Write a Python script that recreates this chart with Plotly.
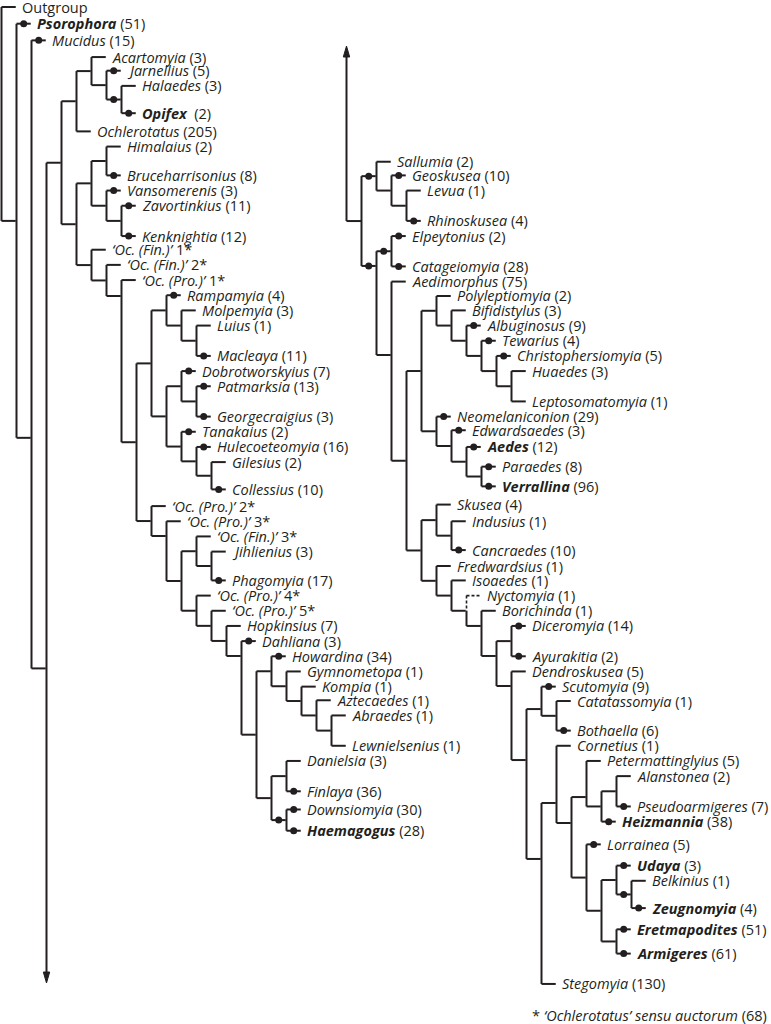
import plotly.graph_objects as go

# ---------------- data ----------------
left_taxa = ["Outgroup", "Psorophora", "Mucidus", "Acartomyia", "Jarnellius", "Halaedes", "Opifex",
             "Ochlerotatus", "Himalaius", "Bruceharrisonius", "Vansomerenis", "Zavortinkius", "Kenknightia",
             "OcFin1", "OcFin2", "OcPro1", "Rampamyia", "Molpemyia", "Luius", "Macleaya", "Dobrotworskyius",
             "Patmarksia", "Georgecraigius", "Tanakaius", "Hulecoeteomyia", "Gilesius", "Collessius",
             "OcPro2", "OcPro3", "OcFin3", "Jihlienius", "Phagomyia", "OcPro4", "OcPro5", "Hopkinsius",
             "Dahliana", "Howardina", "Gymnometopa", "Kompia", "Aztecaedes", "Abraedes", "Lewnielsenius",
             "Danielsia", "Finlaya", "Downsiomyia", "Haemagogus"]
left_counts = [None, 51, 15, 3, 5, 3, 2, 205, 2, 8, 3, 11, 12, None, None, None, 4, 3, 1, 11, 7, 13, 3,
               2, 16, 2, 10, None, None, None, 3, 17, None, None, 7, 3, 34, 1, 1, 1, 1, 1, 3, 36, 30, 28]
left_rows = [0, 1.1, 2.2, 3.3, 4.2, 5.2, 7.0, 8.2, 9.2, 11.1, 12.1, 13.1, 15.1, 16.0, 17.0, 18.0, 19.0,
             20.0, 21.0, 23.0, 24.0, 25.0, 27.0, 28.0, 29.0, 30.0, 31.8, 32.9, 33.9, 34.9, 35.9, 37.8,
             38.8, 39.8, 40.8, 41.8, 42.8, 43.8, 44.8, 45.7, 46.7, 48.7, 49.7, 51.7, 52.9, 54.3]

right_taxa = ["Sallumia", "Geoskusea", "Levua", "Rhinoskusea", "Elpeytonius", "Catageiomyia", "Aedimorphus",
              "Polyleptiomyia", "Bifidistylus", "Albuginosus", "Tewarius", "Christophersiomyia", "Huaedes",
              "Leptosomatomyia", "Neomelaniconion", "Edwardsaedes", "Aedes", "Paraedes", "Verrallina",
              "Skusea", "Indusius", "Cancraedes", "Fredwardsius", "Isoaedes", "Nyctomyia", "Borichinda",
              "Diceromyia", "Ayurakitia", "Dendroskusea", "Scutomyia", "Catatassomyia", "Bothaella",
              "Cornetius", "Petermattinglyius", "Alanstonea", "Pseudoarmigeres", "Heizmannia", "Lorrainea",
              "Udaya", "Belkinius", "Zeugnomyia", "Eretmapodites", "Armigeres", "Stegomyia"]
right_counts = [2, 10, 1, 4, 2, 28, 75, 2, 3, 9, 4, 5, 3, 1, 29, 3, 12, 8, 96, 4, 1, 10, 1, 1, 1, 1, 14, 2,
                5, 9, 1, 6, 1, 5, 2, 7, 38, 5, 3, 1, 4, 51, 61, 130]
right_rows = [10.2, 11.1, 12.1, 14.1, 15.1, 17.1, 18.1, 19.05, 20.0, 21.0, 22.0, 23.0, 24.0, 26.0, 27.0,
              27.9, 29.0, 30.3, 31.6, 32.8, 33.9, 35.8, 36.85, 37.8, 38.8, 39.8, 40.8, 42.8, 43.8, 44.8,
              45.75, 47.7, 48.7, 49.7, 50.7, 52.7, 53.7, 55.2, 56.6, 57.6, 59.4, 60.8, 62.4, 64.4]

oc_labels = {"OcFin1": ("Fin.", "1"), "OcFin2": ("Fin.", "2"), "OcPro1": ("Pro.", "1"),
             "OcPro2": ("Pro.", "2"), "OcPro3": ("Pro.", "3"), "OcFin3": ("Fin.", "3"),
             "OcPro4": ("Pro.", "4"), "OcPro5": ("Pro.", "5")}

bold_taxa = ["Psorophora", "Opifex", "Haemagogus", "Aedes", "Verrallina", "Heizmannia", "Udaya",
             "Zeugnomyia", "Eretmapodites", "Armigeres"]

dotted = ["Psorophora", "Mucidus", "Jarnellius", "Opifex", "HO", "Bruceharrisonius", "Vansomerenis",
          "Zavortinkius", "Kenknightia", "Rampamyia", "Macleaya", "Dobrotworskyius", "Patmarksia",
          "Georgecraigius", "Tanakaius", "Hulecoeteomyia", "Collessius", "Phagomyia", "Dahliana",
          "Howardina", "Finlaya", "DH", "Downsiomyia", "Haemagogus", "C1", "Geoskusea", "Rhinoskusea",
          "C2", "F", "Elpeytonius", "Catageiomyia", "Albuginosus", "Tewarius", "Christophersiomyia",
          "Neomelaniconion", "Edwardsaedes", "Aedes", "Paraedes", "Verrallina", "Cancraedes",
          "Diceromyia", "Ayurakitia", "Scutomyia", "Bothaella", "Pseudoarmigeres", "Heizmannia",
          "Lorrainea", "Udaya", "T", "Zeugnomyia", "Eretmapodites", "Armigeres"]

# node rows read from the picture where the stem is not centred on its clade
node_rows = {"N1": 14.1, "N2": 28.4, "N3": 43.6, "OP1": 19.05, "OP3": 34.87, "DA": 42.78,
             "C2": 17.07, "G": 22.94, "D32": 40.8, "D33": 42.78, "D34": 44.76, "K": 49.64,
             "K1": 46.28, "K2": 56.16, "L": 52.47, "L2": 53.79, "P": 52.08}

footnote = "* <i>\u2018Ochlerotatus\u2019 sensu auctorum</i> (68)"

# ---------------- topology (Newick) ----------------
howardina = "(Howardina,(Gymnometopa,(Kompia,(Aztecaedes,(Abraedes,Lewnielsenius)))))"
dahl = "(Dahliana,(" + howardina + ",((Danielsia,Finlaya),(Downsiomyia,Haemagogus)DH)" + "))DA"
pro4 = "(OcPro4,(OcPro5,(Hopkinsius," + dahl + ")))"
fin3 = "(OcFin3,(Jihlienius,Phagomyia))"
pro2 = "(OcPro2,(OcPro3,(" + fin3 + "," + pro4 + "))OP3)"
ramp = ("((Rampamyia,(Molpemyia,(Luius,Macleaya))),((Dobrotworskyius,(Patmarksia,Georgecraigius)),"
        "(Tanakaius,(Hulecoeteomyia,(Gilesius,Collessius)))))")
d9 = "(" + ramp + "," + pro2 + ")"
ocfin = "(OcFin1,(OcFin2,(OcPro1," + d9 + ")OP1))"
him = "((Himalaius,Bruceharrisonius),(Vansomerenis,(Zavortinkius,Kenknightia)))"
A1 = "((Acartomyia,(Jarnellius,(Halaedes,Opifex)HO)),Ochlerotatus)"
A = "(" + A1 + ",(" + him + "," + ocfin + "))"

C1 = "(Sallumia,(Geoskusea,(Levua,Rhinoskusea)))C1"
F = "(Elpeytonius,Catageiomyia)F"
H1a = "(Polyleptiomyia,(Bifidistylus,(Albuginosus,(Tewarius,(Christophersiomyia,(Huaedes,Leptosomatomyia))))))"
H1b = "(Neomelaniconion,(Edwardsaedes,(Aedes,(Paraedes,Verrallina))))"
H2a = "(Skusea,(Indusius,Cancraedes))"
P = "(Petermattinglyius,((Alanstonea,Pseudoarmigeres),Heizmannia))P"
Q = "(Lorrainea,((Udaya,(Belkinius,Zeugnomyia)T),(Eretmapodites,Armigeres)))"
L = "(Cornetius,(" + P + "," + Q + ")L2)L"
K = "((Scutomyia,(Catatassomyia,Bothaella))K1,(" + L + ",Stegomyia)K2)K"
D34 = "(Dendroskusea," + K + ")D34"
H2b = "(Fredwardsius,(Isoaedes,(Nyctomyia,(Borichinda,((Diceromyia,Ayurakitia)," + D34 + ")D33)D32)NY))"
H = "((" + H1a + "," + H1b + "),(" + H2a + "," + H2b + "))"
G = "(Aedimorphus," + H + ")G"
RIGHT = "(" + C1 + ",(" + F + "," + G + ")C2)B"
NEWICK = "(Outgroup,(Psorophora,(Mucidus,(" + A + "," + RIGHT + ")N3)N2)N1)R"

# ---------------- layout constants ----------------
INK = "#231f20"
PX_X0, PX_DX = 1.5, 15.0          # level -> pixel
PX_Y0, PX_DY = 7.0, 15.17         # row -> pixel
W, Hh = 771, 1024
RIGHT_LEVEL = 24                  # column where the continued clade starts
ARROW_DOWN_ROW = (983 - PX_Y0) / PX_DY
ARROW_UP_ROW = (46 - PX_Y0) / PX_DY
HEAD_LEN = 11 / PX_DY
HEAD_HALF = 3.2 / PX_DX
FONT = "Open Sans"
FS = 14.5

rows = dict(zip(left_taxa + right_taxa, left_rows + right_rows))
counts = dict(zip(left_taxa + right_taxa, left_counts + right_counts))
assert len(left_taxa) == len(left_rows) == len(left_counts)
assert len(right_taxa) == len(right_rows) == len(right_counts)


def parse(s):
    pos = 0

    def label():
        nonlocal pos
        st = pos
        while pos < len(s) and s[pos] not in "(),;":
            pos += 1
        return s[st:pos]

    def node():
        nonlocal pos
        if s[pos] == "(":
            pos += 1
            kids = [node()]
            while s[pos] == ",":
                pos += 1
                kids.append(node())
            assert s[pos] == ")"
            pos += 1
            return {"name": label(), "kids": kids}
        return {"name": label(), "kids": []}

    return node()


tree = parse(NEWICK)


def lay(n, depth):
    if n["name"] == "B":
        depth = RIGHT_LEVEL
    n["d"] = depth
    for k in n["kids"]:
        lay(k, depth + 1)
    if n["kids"]:
        n["y"] = node_rows.get(n["name"], (n["kids"][0]["y"] + n["kids"][-1]["y"]) / 2)
    else:
        n["y"] = rows[n["name"]]


lay(tree, 0)

solid_x, solid_y, dash_x, dash_y = [], [], [], []
dot_x, dot_y = [], []
leaves = []


def seg(xs, ys, x0, y0, x1, y1):
    xs += [x0, x1, None]
    ys += [y0, y1, None]


def walk(n):
    d = n["d"]
    kids = n["kids"]
    if not kids:
        leaves.append(n)
        return
    top, bot = kids[0]["y"], kids[-1]["y"]
    if n["name"] == "N3":
        seg(solid_x, solid_y, d, top, d, ARROW_DOWN_ROW - HEAD_LEN * 0.8)
    elif n["name"] == "NY":
        seg(dash_x, dash_y, d, top, d, n["y"])
        seg(solid_x, solid_y, d, n["y"], d, bot)
    else:
        seg(solid_x, solid_y, d, top, d, bot)
    if n["name"] == "B":
        seg(solid_x, solid_y, d - 1, ARROW_UP_ROW + HEAD_LEN * 0.8, d - 1, n["y"])
        seg(solid_x, solid_y, d - 1, n["y"], d, n["y"])
    for k in kids:
        if k["name"] == "B":
            walk(k)
            continue
        if k["name"] == "Nyctomyia":
            seg(dash_x, dash_y, d, k["y"], d + 1, k["y"])
        else:
            seg(solid_x, solid_y, d, k["y"], d + 1 - 0.05, k["y"])
        if k["name"] in dotted:
            dot_x.append(d + 0.48)
            dot_y.append(k["y"])
        walk(k)


walk(tree)


def X(px):
    return (px - PX_X0) / PX_DX


def Y(px):
    return (px - PX_Y0) / PX_DY


fig = go.Figure()
fig.add_trace(go.Scatter(x=solid_x, y=solid_y, mode="lines",
                         line=dict(color=INK, width=2), hoverinfo="skip"))
fig.add_trace(go.Scatter(x=dash_x, y=dash_y, mode="lines",
                         line=dict(color=INK, width=1.6, dash="3px,2px"), hoverinfo="skip"))
fig.add_trace(go.Scatter(x=dot_x, y=dot_y, mode="markers",
                         marker=dict(color=INK, size=7, line=dict(width=0)), hoverinfo="skip"))

# arrow heads
for lvl, tip, sgn in [(3, ARROW_DOWN_ROW, -1), (RIGHT_LEVEL - 1, ARROW_UP_ROW, 1)]:
    fig.add_trace(go.Scatter(
        x=[lvl, lvl - HEAD_HALF, lvl + HEAD_HALF, lvl],
        y=[tip, tip + sgn * HEAD_LEN, tip + sgn * HEAD_LEN, tip],
        mode="lines", fill="toself", fillcolor=INK, line=dict(color=INK, width=1),
        hoverinfo="skip"))

# labels
annotations = []
for lf in leaves:
    name = lf["name"]
    if name in oc_labels:
        kind, num = oc_labels[name]
        txt = "<i>\u2018Oc. (" + kind + ")\u2019</i> " + num + "*"
    elif counts[name] is None:
        txt = name
    else:
        nm = "<i>" + name + "</i>"
        if name in bold_taxa:
            nm = "<b>" + nm + "</b>"
        gap = "\u00a0 " if name == "Opifex" else " "
        txt = nm + gap + "(" + str(counts[name]) + ")"
    annotations.append(dict(x=lf["d"] + 0.2, y=lf["y"], text=txt, showarrow=False,
                            xanchor="left", yanchor="middle",
                            font=dict(family=FONT, size=FS, color=INK)))

annotations.append(dict(x=X(769), y=Y(1015), text=footnote, showarrow=False,
                        xanchor="right", yanchor="middle",
                        font=dict(family=FONT, size=FS, color=INK)))

fig.update_layout(
    width=W, height=Hh, margin=dict(l=0, r=0, t=0, b=0),
    paper_bgcolor="white", plot_bgcolor="white", showlegend=False,
    annotations=annotations,
    xaxis=dict(range=[X(0), X(W)], visible=False, fixedrange=True),
    yaxis=dict(range=[Y(Hh), Y(0)], visible=False, fixedrange=True),
)

fig.write_html("out.html", config={"displayModeBar": False, "staticPlot": True},
               post_script="document.body.style.margin='0px';document.body.style.overflow='hidden';")
